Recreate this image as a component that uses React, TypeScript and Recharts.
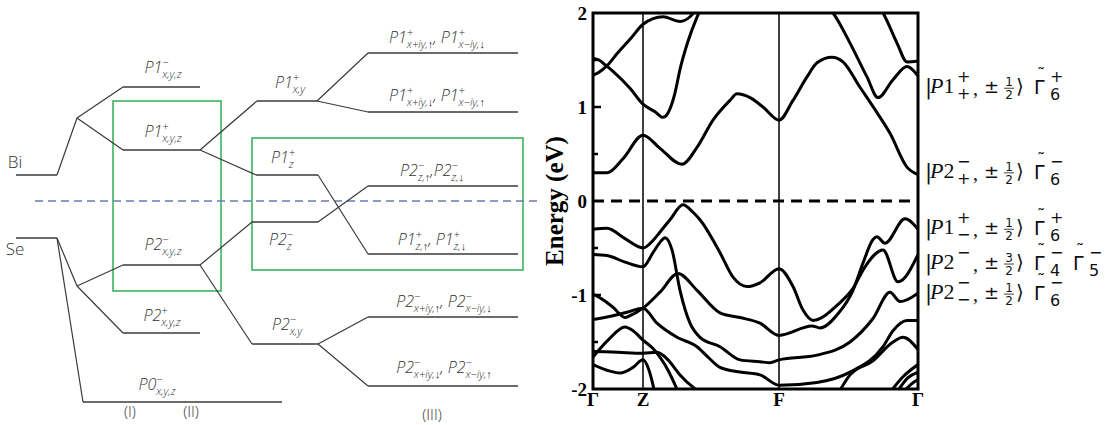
import React from 'react';
import {
  LineChart,
  ComposedChart,
  Line,
  XAxis,
  YAxis,
  ReferenceLine,
  ReferenceArea,
  ReferenceDot,
} from 'recharts';

// ---------- level diagram (arbitrary energy units, Fermi level = 0) ----------
type Level = { id: string; x0: number; x1: number; e: number };
type Part = { main: string; sup: string; sub: string; sep?: string };

// diagram extent in x and energy, used for the axes
const diagramFrame = [
  { x: 0, e: -22.4 },
  { x: 540, e: 20.1 },
];

const atomLevels: Level[] = [
  { id: 'Bi', x0: 16, x1: 57, e: 2.6 },
  { id: 'Se', x0: 16, x1: 57, e: -3.7 },
];

const splitNodes: Level[] = [
  { id: 'BiSplit', x0: 77, x1: 77, e: 8.3 },
  { id: 'SeSplit', x0: 77, x1: 77, e: -8.5 },
];

const stageOneLevels: Level[] = [
  { id: 'P1m', x0: 123, x1: 200, e: 11.4 },
  { id: 'P1p', x0: 123, x1: 200, e: 5.1 },
  { id: 'P2m', x0: 123, x1: 200, e: -6.4 },
  { id: 'P2p', x0: 123, x1: 200, e: -13.2 },
  { id: 'P0m', x0: 83, x1: 282, e: -20.1 },
];

const stageTwoLevels: Level[] = [
  { id: 'P1xy', x0: 257, x1: 317, e: 10.0 },
  { id: 'P1z', x0: 256, x1: 318, e: 2.6 },
  { id: 'P2z', x0: 252, x1: 318, e: -2.1 },
  { id: 'P2xy', x0: 252, x1: 318, e: -14.3 },
];

const stageThreeLevels: Level[] = [
  { id: 'P1xyUp', x0: 368, x1: 518, e: 14.8 },
  { id: 'P1xyDn', x0: 368, x1: 518, e: 8.9 },
  { id: 'P2zSo', x0: 368, x1: 518, e: 1.5 },
  { id: 'P1zSo', x0: 368, x1: 518, e: -5.3 },
  { id: 'P2xyUp', x0: 368, x1: 518, e: -11.6 },
  { id: 'P2xyDn', x0: 368, x1: 518, e: -18.5 },
];

const levelLinks: [string, string][] = [
  ['Bi', 'BiSplit'], ['BiSplit', 'P1m'], ['BiSplit', 'P1p'],
  ['Se', 'SeSplit'], ['SeSplit', 'P2m'], ['SeSplit', 'P2p'], ['Se', 'P0m'],
  ['P1p', 'P1xy'], ['P1p', 'P1z'], ['P2m', 'P2z'], ['P2m', 'P2xy'],
  ['P1xy', 'P1xyUp'], ['P1xy', 'P1xyDn'], ['P1z', 'P1zSo'], ['P2z', 'P2zSo'],
  ['P2xy', 'P2xyUp'], ['P2xy', 'P2xyDn'],
];

const levelLabels: { x: number; e: number; parts: Part[] }[] = [
  { x: 163, e: 12.8, parts: [{ main: 'P1', sup: '−', sub: 'x,y,z' }] },
  { x: 163, e: 6.4, parts: [{ main: 'P1', sup: '+', sub: 'x,y,z' }] },
  { x: 163, e: -4.9, parts: [{ main: 'P2', sup: '−', sub: 'x,y,z' }] },
  { x: 162, e: -12.0, parts: [{ main: 'P2', sup: '+', sub: 'x,y,z' }] },
  { x: 157, e: -18.9, parts: [{ main: 'P0', sup: '−', sub: 'x,y,z' }] },
  { x: 290, e: 11.3, parts: [{ main: 'P1', sup: '+', sub: 'x,y' }] },
  { x: 283, e: 3.8, parts: [{ main: 'P1', sup: '+', sub: 'z' }] },
  { x: 281, e: -4.4, parts: [{ main: 'P2', sup: '−', sub: 'z' }] },
  { x: 287, e: -12.9, parts: [{ main: 'P2', sup: '−', sub: 'x,y' }] },
  { x: 437, e: 15.8, parts: [{ main: 'P1', sup: '+', sub: 'x+iy,↑' }, { main: 'P1', sup: '+', sub: 'x−iy,↓', sep: ', ' }] },
  { x: 437, e: 10.0, parts: [{ main: 'P1', sup: '+', sub: 'x+iy,↓' }, { main: 'P1', sup: '+', sub: 'x−iy,↑', sep: ', ' }] },
  { x: 432, e: 2.5, parts: [{ main: 'P2', sup: '−', sub: 'z,↑' }, { main: 'P2', sup: '−', sub: 'z,↓', sep: ',' }] },
  { x: 432, e: -4.4, parts: [{ main: 'P1', sup: '+', sub: 'z,↑' }, { main: 'P1', sup: '+', sub: 'z,↓', sep: ', ' }] },
  { x: 444, e: -10.6, parts: [{ main: 'P2', sup: '−', sub: 'x+iy,↑' }, { main: 'P2', sup: '−', sub: 'x−iy,↓', sep: ', ' }] },
  { x: 444, e: -17.2, parts: [{ main: 'P2', sup: '−', sub: 'x+iy,↓' }, { main: 'P2', sup: '−', sub: 'x−iy,↑', sep: ', ' }] },
];

const plainLabels = [
  { x: 15, e: 3.3, text: 'Bi', size: 17 },
  { x: 15, e: -5.4, text: 'Se', size: 17 },
  { x: 130, e: -21.6, text: '(I)', size: 15 },
  { x: 191, e: -21.6, text: '(II)', size: 15 },
  { x: 432, e: -21.9, text: '(III)', size: 15 },
];

// green boxes: [x1, x2, eTop, eBottom]
const groupBoxes = [
  [113, 221, 10.0, -9.0],
  [252, 523, 6.3, -6.9],
];

// ---------- band structure ----------
const kTicks = [0, 50, 186, 325];
const kLabels = ['Γ', 'Z', 'F', 'Γ'];
const energyTicks = [-2, -1, 0, 1, 2];
const minorTicks = [-1.5, -1, -0.5, 0.5, 1, 1.5];

const bands: [number, number][][] = [
  // conduction
  [[0, 0.3], [14, 0.3], [30, 0.45], [50, 0.7], [67, 0.56], [89, 0.39], [104, 0.57], [120, 0.86], [137, 1.07], [144, 1.14], [157, 1.1], [170, 1.0], [186, 0.86], [200, 1.07], [214, 1.32], [224, 1.47], [239, 1.53], [250, 1.48], [267, 1.21], [284, 0.94], [297, 0.72], [314, 0.36], [325, 0.28]],
  [[0, 1.34], [6, 1.37], [14, 1.44], [25, 1.58], [37, 1.72], [50, 1.88], [60, 1.94], [70, 1.96], [87, 1.91], [97, 1.96], [104, 2.05]],
  [[0, 1.52], [6, 1.5], [12, 1.45], [20, 1.38], [37, 1.2], [50, 1.03], [62, 0.95], [70, 0.89], [77, 0.98], [82, 1.15], [87, 1.4], [95, 1.7], [103, 1.93], [108, 2.05]],
  [[236, 2.05], [240, 2.0], [257, 1.68], [274, 1.32], [285, 1.1], [300, 1.29], [314, 1.43], [325, 1.33]],
  [[287, 2.05], [290, 2.0], [304, 1.68], [314, 1.48], [325, 1.49]],
  // valence
  [[0, -0.3], [14, -0.29], [32, -0.4], [50, -0.5], [60, -0.42], [67, -0.33], [77, -0.2], [90, -0.04], [100, -0.12], [107, -0.2], [127, -0.55], [140, -0.81], [154, -0.91], [167, -0.87], [186, -0.72], [200, -0.91], [210, -1.16], [220, -1.27], [245, -1.1], [260, -0.93], [272, -0.7], [290, -0.52], [305, -0.86], [325, -0.57]],
  [[0, -0.57], [14, -0.58], [32, -0.65], [50, -0.7], [60, -0.55], [67, -0.44], [72, -0.39], [79, -0.52], [87, -0.95], [97, -1.3], [107, -1.45], [127, -1.55], [147, -1.69], [167, -1.71], [177, -1.72], [186, -1.69], [224, -1.64], [257, -1.5], [280, -1.25], [297, -0.97], [307, -1.07], [325, -0.98]],
  [[0, -0.99], [10, -1.05], [20, -1.13], [32, -1.24], [37, -1.22], [50, -1.14], [67, -0.97], [85, -0.77], [104, -0.95], [127, -1.19], [147, -1.24], [167, -1.3], [186, -1.43], [219, -1.33], [227, -1.35], [245, -1.2], [260, -0.95], [270, -0.66], [280, -0.41], [284, -0.38], [292, -0.45], [312, -0.19], [325, -0.3]],
  [[0, -1.26], [20, -1.22], [35, -1.18], [50, -1.14], [64, -1.3], [84, -1.45], [104, -1.55], [115, -1.66], [127, -1.77], [147, -1.82], [167, -1.85], [186, -1.96], [224, -1.93], [257, -1.82], [290, -1.55], [300, -1.38], [314, -1.27], [325, -1.27]],
  [[0, -1.66], [15, -1.48], [32, -1.34], [40, -1.38], [50, -1.48], [60, -1.57], [75, -1.8], [86, -2.05]],
  [[0, -1.6], [25, -1.61], [50, -1.62], [64, -1.61], [75, -1.69], [87, -1.85], [100, -1.98], [110, -2.05]],
  [[0, -1.74], [14, -1.8], [27, -1.83], [40, -1.77], [50, -1.69], [56, -1.8], [62, -2.05]],
  [[245, -2.05], [257, -1.85], [280, -1.7], [300, -1.5], [310, -1.45], [325, -1.58]],
  [[296, -2.05], [310, -1.87], [325, -1.74]],
  [[303, -2.05], [315, -1.88], [325, -1.82]],
  [[309, -2.05], [318, -1.95], [325, -1.9]],
];

const stateLabels = [
  { e: 1.21, orb: 'P1', sup: '+', sub: '+', m: '1', gammas: [{ sup: '+', sub: '6' }] },
  { e: 0.31, orb: 'P2', sup: '−', sub: '+', m: '1', gammas: [{ sup: '−', sub: '6' }] },
  { e: -0.29, orb: 'P1', sup: '+', sub: '−', m: '1', gammas: [{ sup: '+', sub: '6' }] },
  { e: -0.66, orb: 'P2', sup: '−', sub: '', m: '3', gammas: [{ sup: '−', sub: '4' }, { sup: '−', sub: '5' }] },
  { e: -0.98, orb: 'P2', sup: '−', sub: '−', m: '1', gammas: [{ sup: '−', sub: '6' }] },
];

const allLevels = [...atomLevels, ...splitNodes, ...stageOneLevels, ...stageTwoLevels, ...stageThreeLevels];
const levelById = Object.fromEntries(allLevels.map((l) => [l.id, l]));

const LEVEL_COLOR = '#3a3a3a';
const TEXT_COLOR = '#333';
const labelFont = "'Open Sans', 'Noto Sans', sans-serif";

const LevelLabel = ({ cx, cy, parts }: { cx: number; cy: number; parts: Part[] }) => (
  <text x={cx} y={cy} textAnchor="middle" fontFamily={labelFont} fontStyle="italic" fontWeight={300} fontSize={16} fill={TEXT_COLOR}>
    {parts.flatMap((p, i) => [
      <tspan key={`m${i}`} dy={i === 0 ? 0 : -5}>{(i > 0 ? p.sep ?? ', ' : '') + p.main}</tspan>,
      <tspan key={`p${i}`} fontSize={11} dy={-7}>{p.sup}</tspan>,
      <tspan key={`b${i}`} fontSize={11} dx={-6.3} dy={12}>{p.sub}</tspan>,
    ])}
  </text>
);

const LevelDiagram = () => (
  <LineChart width={540} height={425} data={diagramFrame} margin={{ top: 0, right: 0, bottom: 0, left: 0 }}>
    <XAxis type="number" dataKey="x" domain={[0, 540]} hide />
    <YAxis type="number" domain={[-22.4, 20.1]} hide />
    {/* carries the frame extent only, nothing visible */}
    <Line dataKey="e" stroke="none" strokeOpacity={0} dot={false} activeDot={false} legendType="none" isAnimationActive={false} />
    {groupBoxes.map(([x1, x2, y1, y2], i) => (
      <ReferenceArea key={`box${i}`} x1={x1} x2={x2} y1={y2} y2={y1} fill="none" stroke="#2fae57" strokeWidth={1.5} />
    ))}
    <ReferenceLine segment={[{ x: 35, y: 0 }, { x: 537, y: 0 }]} stroke="#6b7ab8" strokeWidth={1.5} strokeDasharray="8 5" />
    {allLevels
      .filter((l) => l.x1 > l.x0)
      .map((l) => (
        <ReferenceLine
          key={l.id}
          segment={[{ x: l.x0, y: l.e }, { x: l.x1, y: l.e }]}
          stroke={LEVEL_COLOR}
          strokeWidth={1.4}
        />
      ))}
    {levelLinks.map(([a, b]) => (
      <ReferenceLine
        key={`${a}-${b}`}
        segment={[{ x: levelById[a].x1, y: levelById[a].e }, { x: levelById[b].x0, y: levelById[b].e }]}
        stroke={LEVEL_COLOR}
        strokeWidth={1.2}
      />
    ))}
    {levelLabels.map((l, i) => (
      <ReferenceDot
        key={`lab${i}`}
        x={l.x}
        y={l.e}
        r={1}
        ifOverflow="visible"
        shape={(p: any) => <LevelLabel cx={p.cx} cy={p.cy} parts={l.parts} />}
      />
    ))}
    {plainLabels.map((l) => (
      <ReferenceDot
        key={l.text}
        x={l.x}
        y={l.e}
        r={1}
        ifOverflow="visible"
        shape={(p: any) => (
          <text x={p.cx} y={p.cy} textAnchor="middle" fontFamily={labelFont} fontWeight={300} fontSize={l.size} fill={TEXT_COLOR}>
            {l.text}
          </text>
        )}
      />
    ))}
  </LineChart>
);

const serifBold = "'Liberation Serif', 'DejaVu Serif', serif";
const mathSans = "'DejaVu Sans', sans-serif";

const EnergyTitle = (props: any) => {
  const { viewBox } = props;
  const x = viewBox.x + 14;
  const y = viewBox.y + viewBox.height / 2;
  return (
    <text
      x={x}
      y={y}
      transform={`rotate(-90 ${x} ${y})`}
      textAnchor="middle"
      dominantBaseline="central"
      fontFamily={serifBold}
      fontWeight="bold"
      fontSize={25}
      fill="#000"
    >
      Energy (eV)
    </text>
  );
};

const StateTick = (props: any) => {
  const { x, y, payload } = props;
  const s = stateLabels.find((l) => Math.abs(l.e - payload.value) < 1e-6);
  if (!s) return null;
  const b = y + 6;
  return (
    <g fill="#111">
      <text x={x + 7} y={b + 1} fontFamily={mathSans} fontSize={21}>|</text>
      <text x={x + 12} y={b} fontFamily={serifBold} fontSize={22}>
        <tspan fontStyle="italic">{s.orb[0]}</tspan>
        {s.orb.slice(1)}
      </text>
      <text x={x + 39} y={b - 11} fontFamily={mathSans} fontSize={16}>{s.sup}</text>
      {s.sub && <text x={x + 39} y={b + 6} fontFamily={mathSans} fontSize={16}>{s.sub}</text>}
      <text x={x + 55} y={b + 2} fontFamily={serifBold} fontSize={20}>,</text>
      <text x={x + 66} y={b} fontFamily={mathSans} fontSize={18}>±</text>
      <text x={x + 91} y={b - 7} textAnchor="middle" fontFamily={mathSans} fontSize={12}>{s.m}</text>
      <line x1={x + 86} x2={x + 96} y1={b - 5} y2={b - 5} stroke="#111" strokeWidth={0.8} />
      <text x={x + 91} y={b + 6} textAnchor="middle" fontFamily={mathSans} fontSize={12}>2</text>
      <text x={x + 98} y={b} fontFamily={mathSans} fontSize={20}>⟩</text>
      {s.gammas.map((g, i) => {
        const gx = x + 116 + i * 39;
        return (
          <g key={i}>
            <text x={gx} y={b + 1} fontFamily={mathSans} fontSize={19}>Γ</text>
            <text x={gx + 7} y={b - 12} textAnchor="middle" fontFamily={mathSans} fontSize={17}>˜</text>
            <text x={gx + 16} y={b - 11} fontFamily={mathSans} fontSize={16}>{g.sup}</text>
            <text x={gx + 16} y={b + 7} fontFamily={mathSans} fontSize={16}>{g.sub}</text>
          </g>
        );
      })}
    </g>
  );
};

const BandChart = () => (
  <ComposedChart width={565} height={425} margin={{ top: 13, right: 0, bottom: 0, left: 0 }}>
    <XAxis
      type="number"
      dataKey="k"
      domain={[0, 325]}
      ticks={kTicks}
      interval={0}
      allowDataOverflow
      height={36}
      axisLine={false}
      tickLine={false}
      tickSize={0}
      tickMargin={4}
      tickFormatter={(v: number) => kLabels[kTicks.indexOf(v)]}
      tick={{ fill: '#000', fontFamily: serifBold, fontWeight: 'bold', fontSize: 19 }}
    />
    <YAxis
      type="number"
      domain={[-2, 2]}
      ticks={energyTicks}
      interval={0}
      allowDataOverflow
      width={53}
      axisLine={false}
      tickLine={false}
      tickSize={0}
      tickMargin={6}
      tick={{ fill: '#000', fontFamily: serifBold, fontWeight: 'bold', fontSize: 19 }}
      label={<EnergyTitle />}
    />
    <YAxis
      yAxisId="states"
      orientation="right"
      type="number"
      domain={[-2, 2]}
      ticks={stateLabels.map((s) => s.e)}
      interval={0}
      allowDataOverflow
      width={187}
      axisLine={false}
      tickLine={false}
      tickSize={0}
      tickMargin={0}
      tick={<StateTick />}
    />
    <ReferenceLine x={50} stroke="#000" strokeWidth={1.5} />
    <ReferenceLine x={186} stroke="#000" strokeWidth={1.5} />
    <ReferenceLine y={0} stroke="#000" strokeWidth={3} strokeDasharray="11 7" />
    {minorTicks.map((e) => (
      <ReferenceLine
        key={`t${e}`}
        segment={[{ x: 0, y: e }, { x: Number.isInteger(e) ? 8 : 5, y: e }]}
        stroke="#000"
        strokeWidth={2.5}
      />
    ))}
    {bands.map((band, i) => (
      <Line
        key={`band${i}`}
        data={band.map(([k, e]) => ({ k, e }))}
        dataKey="e"
        type="monotone"
        stroke="#000"
        strokeWidth={3}
        dot={false}
        activeDot={false}
        isAnimationActive={false}
      />
    ))}
    <ReferenceArea x1={0} x2={325} y1={-2} y2={2} fill="none" stroke="#000" strokeWidth={3} />
  </ComposedChart>
);

export default function App() {
  return (
    <div style={{ position: 'absolute', left: 0, top: 0, width: 1105, height: 425, background: '#fff' }}>
      <div style={{ position: 'absolute', left: 0, top: 0 }}>
        <LevelDiagram />
      </div>
      <div style={{ position: 'absolute', left: 540, top: 0 }}>
        <BandChart />
      </div>
    </div>
  );
}
